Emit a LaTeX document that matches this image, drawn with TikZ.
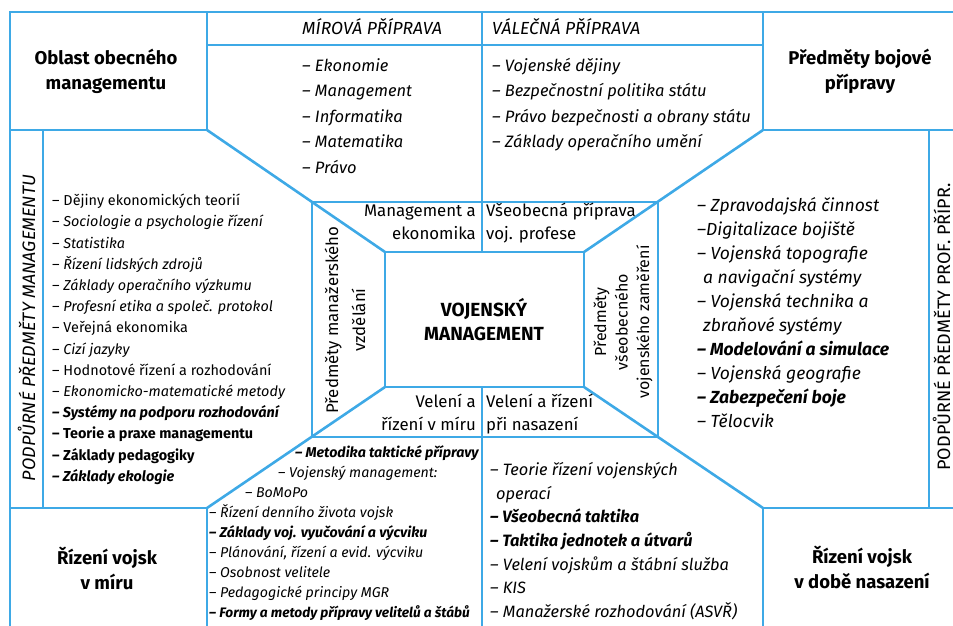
\documentclass[tikz,border=0pt]{standalone}
\usepackage{fontspec}
\setmainfont{Fira Sans}
\usepackage{xcolor}
\usetikzlibrary{positioning}
\definecolor{lineblue}{RGB}{62,169,230}
\tikzstyle{divider} = [draw=lineblue, line width=2.6pt]
\tikzstyle{heading} = [font=\bfseries\fontsize{18.5}{25}\selectfont, align=center, inner sep=0pt]
\tikzstyle{caption} = [font=\itshape\fontsize{17.5}{20}\selectfont, anchor=base west, inner sep=0pt]
\tikzstyle{biglist} = [font=\itshape\fontsize{16.5}{25.5}\selectfont, align=left, anchor=north west, inner sep=0pt]
\tikzstyle{smalllist} = [font=\fontsize{14.4}{21.2}\selectfont, align=left, anchor=north west, inner sep=0pt]
\tikzstyle{ringlabel} = [font=\fontsize{16.8}{22.5}\selectfont, inner sep=0pt]
\tikzstyle{sidelabel} = [font=\fontsize{18}{20}\selectfont, rotate=90, anchor=base, inner sep=0pt]

\begin{document}
\begin{tikzpicture}[x=1pt, y=-1pt]
    \useasboundingbox (0,0) rectangle (953,625);

        % Lines
        \draw [divider] (10,12) rectangle (957,629);
        \draw [divider] (10,130) -| (207,12);
        \draw [divider] (763,12) |- (957,130);
        \draw [divider] (10,508) -| (207,629);
        \draw [divider] (957,508) -| (763,629);
        \draw [divider] (43,130) -- (43,508);
        \draw [divider] (929,130) -- (929,508);
        \draw [divider] (207,45) -- (763,45);
        \draw [divider] (482,12) -- (482,252);
        \draw [divider] (482,387) -- (482,629);
        \draw [divider] (312,202) rectangle (658,437);
        \draw [divider] (385,252) rectangle (584,387);
        \draw [divider] (207,130) -- (385,252);
        \draw [divider] (763,130) -- (584,252);
        \draw [divider] (207,508) -- (385,387);
        \draw [divider] (763,508) -- (584,387);

        % Corner boxes
        \node (general) [heading] at (106,71) {Oblast obecného\\managementu};
        \node (combat) [heading] at (860,71) {Předměty bojové\\přípravy};
        \node (peace) [heading] at (107,568) {Řízení vojsk\\v míru};
        \node (deploy) [heading] at (862,567) {Řízení vojsk\\v době nasazení};

        % Top row
        \node (peacehead) [caption] at (302,34) {MÍROVÁ PŘÍPRAVA};
        \node (warhead) [caption] at (492,34) {VÁLEČNÁ PŘÍPRAVA};
        \node (peacetop) [biglist] at (302,58) {– Ekonomie\\– Management\\– Informatika\\– Matematika\\– Právo};
        \node (wartop) [biglist] at (492,58) {– Vojenské dějiny\\– Bezpečnostní politika státu\\– Právo bezpečnosti a obrany státu\\– Základy operačního umění};

        % Side strips
        \node (leftside) [sidelabel, font=\itshape\fontsize{18}{20}\selectfont] at (35,328) {PODPŮRNÉ PŘEDMĚTY MANAGEMENTU};
        \node (rightside) [sidelabel] at (950,327) {PODPŮRNÉ PŘEDMĚTY PROF. PŘÍPR.};

        % Left list
        \node (mgmtlist) [smalllist] at (52,194) {– Dějiny ekonomických teorií\\
            \textit{– Sociologie a psychologie řízení}\\
            \textit{– Statistika}\\
            \textit{– Řízení lidských zdrojů}\\
            \textit{– Základy operačního výzkumu}\\
            \textit{– Profesní etika a společ. protokol}\\
            – Veřejná ekonomika\\
            \textit{– Cizí jazyky}\\
            – Hodnotové řízení a rozhodování\\
            \textit{– Ekonomicko-matematické metody}\\
            \textbf{\textit{– Systémy na podporu rozhodování}}\\
            \textbf{– Teorie a praxe managementu}\\
            \textbf{– Základy pedagogiky}\\
            \textbf{\textit{– Základy ekologie}}};

        % Right list
        \node (combatlist) [biglist, font=\itshape\fontsize{17.5}{24}\selectfont] at (697,197) {– Zpravodajská činnost\\
            –Digitalizace bojiště\\
            – Vojenská topografie\\
            \hspace*{6pt}a navigační systémy\\
            – Vojenská technika a\\
            \hspace*{6pt}zbraňové systémy\\
            \textbf{– Modelování a simulace}\\
            – Vojenská geografie\\
            \textbf{– Zabezpečení boje}\\
            – Tělocvik};

        % Bottom lists
        \node (tactics) [caption, font=\bfseries\itshape\fontsize{14.2}{20}\selectfont] at (295,457) {– Metodika taktické přípravy};
        \node (vojmgmt) [caption, font=\itshape\fontsize{14.2}{20}\selectfont] at (278,477) {– Vojenský management:};
        \node (bomopo) [caption, font=\itshape\fontsize{14.2}{20}\selectfont] at (245,497) {– BoMoPo};
        \node (peacelist) [smalllist, font=\itshape\fontsize{14.2}{20}\selectfont] at (209,504) {– Řízení denního života vojsk\\
            \textbf{– Základy voj. vyučování a výcviku}\\
            – Plánování, řízení a evid. výcviku\\
            – Osobnost velitele\\
            – Pedagogické principy MGR\\
            \textbf{\fontsize{13.7}{20}\selectfont – Formy a metody přípravy velitelů a štábů}};
        \node (deploylist) [biglist, font=\itshape\fontsize{16.4}{23.7}\selectfont] at (490,462) {– Teorie řízení vojenských\\
            \hspace*{6pt}operací\\
            \textbf{– Všeobecná taktika}\\
            \textbf{– Taktika jednotek a útvarů}\\
            – Velení vojskům a štábní služba\\
            – KIS\\
            – Manažerské rozhodování (ASVŘ)};

        % Middle frame
        \node (mgmtecon) [ringlabel, align=right, anchor=north east] at (476,205) {Management a\\ekonomika};
        \node (genprep) [ringlabel, align=left, anchor=north west] at (486,203) {Všeobecná příprava\\voj. profese};
        \node (peacecmd) [ringlabel, align=right, anchor=north east] at (476,394) {Velení a\\řízení v míru};
        \node (deploycmd) [ringlabel, align=left, anchor=north west] at (486,394) {Velení a řízení\\při nasazení};
        \node (mgrlabel) [ringlabel, font=\fontsize{16.8}{27}\selectfont, align=center, rotate=90] at (345,320) {Předměty manažerského\\vzdělání};
        \node (voklabel) [ringlabel, font=\fontsize{16}{21.5}\selectfont, align=center, rotate=90] at (623,322) {Předměty\\všeobecného\\vojenského zaměření};
        \node (core) [heading, font=\bfseries\fontsize{19}{24}\selectfont] at (484,320) {VOJENSKÝ\\MANAGEMENT};

    \end{tikzpicture}
\end{document}
